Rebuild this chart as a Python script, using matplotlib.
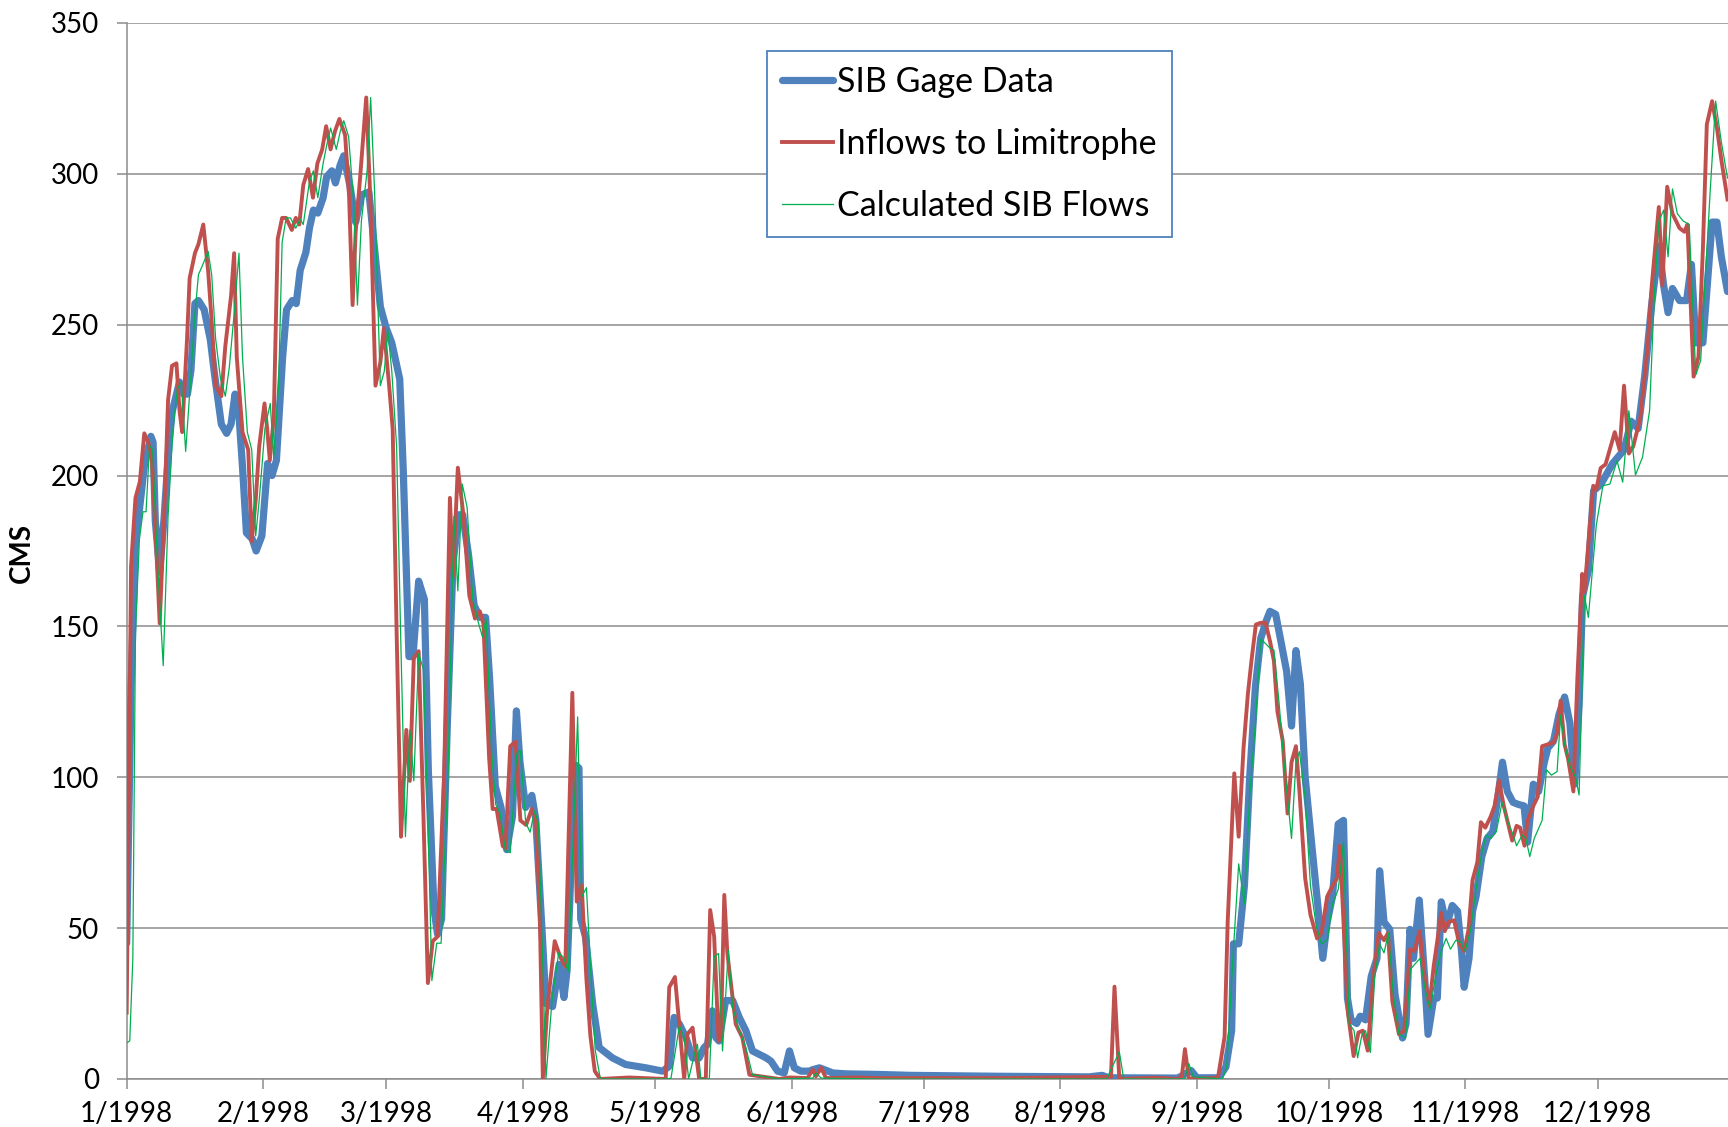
import numpy as np
import matplotlib
matplotlib.use("Agg")
import matplotlib.pyplot as plt

plt.rcParams["font.family"] = ["Lato", "DejaVu Sans"]

# day offsets from 1 Jan 1998, flow in CMS
gage_day = [0, 1, 2, 3, 4, 5.5, 6, 6.5, 7.5, 8.5, 9.5, 10.3, 12, 12.9, 13.8, 14.6, 15.5, 16.3, 17.6, 19,
            20, 21.5, 22.7, 23.7, 24.6, 25.5, 26.3, 27.2, 28.5, 29.4, 30.7, 32, 33, 34, 35.4, 36.3, 37.6,
            38.5, 39.4, 40.7, 41.5, 42.4, 43.4, 44.6, 45.4, 46.6, 47.4, 48.5, 49.3, 50.7, 52, 53.3, 55,
            56.3, 57.6, 58.9, 60.2, 62, 62.8, 64.1, 65, 66.3, 67.6, 68.5, 69.8, 70.6, 71.5, 72.8, 74.1,
            75.4, 76.3, 77.6, 78.9, 80.2, 81.5, 82.4, 83.7, 85, 86.3, 87.6, 88.5, 89.3, 90.6, 92, 92.9,
            94.4, 95.2, 96.7, 98.2, 99.3, 100, 101.2, 102, 102.7, 103.1, 104.2, 105.8, 107.3, 110.3, 113.3,
            117.9, 121.7, 123.2, 124.3, 125.5, 127, 128.5, 130, 131.1, 131.9, 133, 133.8, 134.5, 136, 137.6,
            139.1, 140.6, 142.1, 145.2, 146.3, 147.8, 149.3, 150.5, 151.6, 153.1, 155, 155.8, 157.3, 158.4,
            160.3, 163.3, 170.9, 178, 198, 218.5, 221.5, 223, 238.7, 241.7, 243, 248, 249.6, 250.9, 251.3,
            252.5, 253.8, 255, 256.3, 257.5, 258.8, 259.6, 260.9, 262.1, 263.4, 264.5, 265.5, 266.5, 267.6,
            269.2, 270.5, 271.6, 272.6, 273.8, 275.1, 276.3, 277.2, 278, 279.3, 280.1, 281.3, 282.6, 283.9,
            284.5, 285.5, 286.8, 288, 289.7, 290.5, 291.4, 292.2, 293.5, 294.7, 295.5, 296.8, 297.6, 298.5,
            299.7, 301, 302.2, 303.1, 303.7, 304.8, 305.6, 306.4, 307.7, 308.9, 310.2, 311.4, 312.4, 313.5,
            314.8, 316, 317.3, 318.1, 319.4, 320.6, 321.9, 322.7, 324, 325.2, 326.5, 327.7, 328.8, 329.8,
            330.6, 331.9, 333.1, 334.7, 337.4, 340, 341.6, 343.2, 344.7, 346.3, 347.9, 349, 350, 351, 352.6,
            354.2, 355.3, 356.3, 357.9, 359, 360, 361.1, 362.1, 363.5]
gage_cms = [45, 130, 178, 190, 203, 213, 211, 185, 168, 186, 208, 221, 231, 227, 227, 235, 257, 258, 255, 245,
            233, 217, 214, 217, 227, 220, 203, 181, 179, 175, 180, 204, 200, 205, 239, 255, 258,
            257, 268, 274, 282, 288, 287, 292, 299, 301, 297, 303, 306, 296, 284, 293, 294,
            275, 256, 249, 244, 232, 202, 140, 140, 165, 159, 102, 56, 48, 53, 117, 171,
            187, 187, 174, 157, 153, 153, 133, 97, 90, 76, 87, 122, 105, 90, 94, 86,
            47, 25, 24, 38, 27, 36, 81, 104, 103, 53, 47, 25, 10.4, 7, 4.8,
            3.7, 2.6, 4.2, 20.4, 18.2, 13.7, 7, 7, 10.4, 11.5, 22.6, 13.7, 12.6, 26, 26,
            20.4, 16, 9.3, 7, 5.9, 2.6, 2, 9.3, 3.7, 2.6, 2.6, 3.1, 3.7, 3.1,
            2, 1.7, 1.5, 1.2, 0.9, 0.7, 1.2, 0.4, 0.3, 2.8, 0.4, 0.4, 4, 16, 44.8,
            44.8, 64, 100, 130, 146, 152, 155, 154, 145, 135, 117, 142, 131, 100,
            76, 57, 40, 52, 60.5, 84.5, 85.7, 26.8, 19.6, 18.4, 20.8, 19.6, 34, 40,
            69, 52, 49.6, 28, 13.6, 18.4, 49.6, 40, 59.3, 34, 14.8, 26.8, 26.8, 58.7,
            50.8, 57.5, 55.6, 42.4, 30.4, 40, 55.6, 60.5, 73.7, 79.7, 82, 94, 105, 95.3,
            91.7, 91, 90.5, 78.5, 97.7, 95.3, 105, 109.7, 112, 120.6, 126.6, 118, 97.7, 124,
            160, 168.6, 195, 197, 204, 208.5, 218, 215.6, 233, 257, 276, 263, 254, 262, 258,
            258, 270, 244, 244, 265, 284, 284, 272.5, 261]

inflow_day = [0, 1, 2, 3, 4, 4.9, 5.7, 6.6, 7.5, 8.5, 9.4, 10.3, 11.3, 12, 12.6, 13.7, 14.3, 15.5, 16.3, 17.4,
              18.5, 19.3, 20.2, 21.5, 22.4, 23.7, 24.4, 25, 26.3, 27.6, 28.4, 29.3, 30.1, 31.3, 31.9, 32.5,
              33.4, 34.3, 35.3, 36.2, 37.5, 38.4, 39.2, 40.1, 41.2, 42.3, 43.3, 44.4, 45.3, 46.3, 47.3, 48.3,
              49.6, 50.5, 51.3, 52, 53, 54.4, 55.3, 56.5, 57.6, 58.4, 59.6, 60.4, 61.3, 62.3, 63.5, 64.3,
              65.2, 66.3, 67.4, 68.4, 69.5, 70.6, 72.1, 73.4, 74.1, 75.2, 76.5, 77.8, 79.1, 80.2, 81, 82.3,
              83.1, 84, 85.4, 86, 87.1, 88.3, 89.4, 90.7, 92, 92.9, 93.8, 94.5, 95.5, 97.2, 98.5, 99.6,
              101.2, 102.2, 103.3, 104.4, 105.3, 106.3, 107.5, 114.1, 122.4, 123.2, 124.5, 126.6, 127.3,
              128.5, 130, 131.5, 132.5, 133.4, 134.4, 134.9, 135.7, 136.4, 138.3, 139.8, 141.4, 148.2, 150.5,
              154.6, 155.8, 156.5, 157.7, 158.8, 165.6, 170.9, 200, 220.5, 223.5, 224.3, 225.4, 233.6, 238.7,
              239.6, 240.3, 241.2, 247.8, 249.3, 250, 251.5, 252.5, 253.6, 254.6, 255.4, 256.4, 257.5, 258.6,
              259.6, 260.5, 261.3, 262.5, 263.6, 264.5, 265.5, 266.3, 267.6, 268.8, 270.3, 271.3, 272.6,
              273.8, 274.8, 275.5, 276.3, 277.3, 278.6, 279.7, 280.7, 281.8, 283, 284.3, 285.5, 286.4, 287.4,
              288.9, 290.1, 291.4, 292.4, 293.6, 294.7, 295.8, 296.8, 298.5, 299.3, 300.1, 301.4, 302.6,
              303.7, 304.7, 305.6, 306.7, 307.5, 308.5, 309.7, 310.6, 311.6, 312.7, 313.5, 314.6, 315.6,
              316.4, 317.4, 318.1, 319.4, 320.4, 321.4, 322.7, 324, 324.8, 325.6, 326.5, 327.3, 328.5, 329.4,
              330.5, 331, 333, 333.7, 334.7, 335.8, 337.9, 339, 340, 341.1, 342.1, 343.7, 345.3, 346.3, 347.9,
              348.7, 349.8, 351, 352.6, 353.7, 354.4, 355.8, 356.9, 357.9, 358.8, 360, 361.1, 362.1, 363.5]
inflow_cms = [22, 170, 192.6, 198, 214, 211, 206, 180, 151, 186, 225, 236.4, 237.2, 221.5, 214.4, 245, 265.4,
              273.7, 276.7, 283.2, 267.8, 251.2, 229.8, 226.3, 242.9, 259.5, 273.7, 239.3, 214.4, 208.5,
              178.2, 191.9, 209.7, 223.9, 215.6, 205, 219.2, 278.5, 285.4, 285.4, 281.4, 285.4, 283.2,
              296.3, 301.6, 292.1, 303.4, 308.1, 315.8, 308.1, 314.1, 318.2, 312.9, 292.7, 256.5, 280.8,
              298.6, 325.3, 292.7, 229.8, 237.5, 248.8, 229.8, 215.6, 148, 80.3, 115.7, 98.8, 139.5,
              141.8, 86.5, 31.8, 45.7, 47.2, 101.8, 192.6, 166.5, 202.6, 186.5, 160.3, 152.6, 155, 151,
              106.5, 89.5, 89.5, 77.2, 76.5, 110.3, 111.8, 85.7, 84.2, 89.5, 86.5, 55.7, 0, 23.4, 45.7,
              40.3, 37.2, 128, 58.8, 64.2, 33, 14.2, 2.6, 0, 0.5, 0, 30.4, 33.8, 0, 14.8, 17, 0, 0, 56,
              47.2, 12.6, 13.7, 61, 41.6, 18.2, 13.7, 1.4, 0, 0.5, 0.3, 3.1, 0.9, 3.7, 0.3, 0.5, 0.3, 0.3,
              0.7, 0.7, 30.6, 0, 0.4, 0, 1, 9.9, 0, 0.4, 14, 52, 101.3, 80.3, 109.7, 127.8, 138.6, 150.6,
              151.2, 151.2, 145.2, 138.6, 121.8, 112.1, 88, 105, 110.3, 95.3, 66.5, 54.4, 46.6, 48.4,
              60.5, 64, 66.5, 77.3, 52, 22, 7.6, 15.4, 16, 9.4, 32.8, 48.4, 46, 48.4, 25.6, 14.8, 16, 43,
              42.4, 49, 34, 24.4, 37.6, 55, 49, 52, 52.6, 44.8, 42.4, 49.6, 65.9, 71.9, 85.1, 83.3, 86.9,
              90.5, 98.9, 90.5, 85.7, 79, 83.9, 83.3, 77.3, 85.7, 90.5, 93.5, 110.3, 110.9, 111.5, 114.5,
              125.4, 110.9, 106.1, 95.3, 132.6, 167.4, 161.4, 196.6, 195.4, 202.5, 203.7, 214.4, 208.5,
              229.8, 207.3, 209.7, 219.2, 241.7, 263, 289, 263, 295.7, 286.8, 282, 280.8, 283.2, 232.8,
              239.3, 274.9, 316.4, 324.1, 315.2, 304.6, 291.5]

calc_day = [0, 0.7, 1.4, 2, 2.9, 3.7, 4.4, 5.2, 5.9, 6.9, 8.3, 9.4, 10.5, 11.5, 12.4, 13.4, 14.6, 15.5, 16.3,
            17.2, 18.5, 19.3, 20.2, 21.3, 22.4, 23.3, 24.4, 25.5, 26.3, 27.4, 28.4, 29.3, 30.1, 31.4, 32.6,
            33.4, 34.5, 35.3, 36.2, 37.2, 38.4, 39.4, 40.1, 41.5, 42.4, 43.4, 44.6, 45.4, 46.3, 47.6, 48.5,
            49.3, 50.4, 51.5, 52.4, 53.3, 54.6, 55.4, 56.3, 57.6, 58.5, 59.3, 60.2, 61.3, 62.2, 63.3, 64.3,
            65.2, 66.3, 67.4, 68.4, 69.3, 70.4, 71.4, 73, 74.3, 75.2, 76.2, 77.3, 78.6, 79.9, 80.8, 81.6,
            82.9, 83.8, 84.8, 86, 87.1, 88.6, 89.4, 90.6, 91.6, 92.6, 93.5, 94.6, 95.2, 96.6, 98.1, 99.2,
            100.3, 102.4, 103.3, 104.4, 105.6, 106.4, 107.5, 108, 122.8, 123.6, 125.5, 126.6, 127.6, 128.9,
            129.6, 130.4, 132.3, 133.4, 134.4, 135.3, 136.6, 137.6, 139.1, 140.6, 142.1, 148.2, 155.8, 156.5,
            157.7, 170.9, 222.5, 225.4, 226.4, 240.2, 241.2, 242.2, 248.8, 249.8, 251.3, 252.5, 253.8, 255,
            256.3, 257.5, 258.4, 259.6, 260.5, 261.7, 262.5, 264.5, 265.5, 266.3, 267.6, 268.8, 270.1,
            271.3, 272.6, 273.8, 275.1, 276.3, 277.6, 278.7, 279.5, 280.5, 281.3, 282.4, 283.4, 284.5,
            285.5, 286.5, 287.6, 288.9, 290.4, 291.5, 292.6, 293.7, 294.9, 296, 297.2, 298.5, 299.6, 300.6,
            301.8, 302.9, 303.9, 305.2, 306.4, 307.7, 308.7, 309.7, 311, 312.3, 313.5, 314.8, 315.6, 316.9,
            317.7, 318.6, 319.6, 321.4, 322.4, 323.5, 324.8, 325.6, 326.5, 327.7, 329, 329.8, 331, 331.9,
            333.7, 335.2, 336.8, 338.4, 339.7, 341.1, 342.6, 344.2, 345.8, 346.8, 347.9, 349, 350, 351,
            352.1, 353.4, 354.8, 356.3, 357.4, 358.4, 359.5, 360.8, 362.1, 363.5]
calc_cms = [12, 12.6, 40, 148, 179, 188, 188, 210, 208.5, 174, 137, 186.5, 215, 228.6, 231, 208, 233.4, 253.6,
            266.6, 269.6, 274.3, 266.6, 245.3, 232.2, 226.3, 235.8, 253.6, 273.7, 239.3, 214.4, 208.5, 180,
            191.9, 215.6, 223.9, 206.1, 229.8, 277.3, 285.4, 285.4, 282, 285, 283.2, 297.4, 301, 292.1,
            303.4, 309.3, 315.2, 308.1, 314.1, 317.6, 312.3, 291.5, 256.5, 284.4, 301, 325.3, 293.9, 229.8,
            234.6, 248.2, 234.6, 209.5, 148, 80.3, 115.7, 98.8, 141, 135.7, 86.5, 32.6, 45, 45, 101.8, 186.5,
            161.8, 197.2, 189.5, 158.8, 151, 146.5, 152.6, 108, 91, 88, 75.7, 75, 108, 108.8, 85, 81.8, 88.8,
            85, 32.6, 0, 26.5, 41.8, 40.3, 35.7, 120, 60.3, 63.4, 29.5, 9.5, 0.5, 0, 0, 0.3, 17.6, 13.7, 0,
            8.1, 11.5, 0, 0, 40.5, 41.6, 9.3, 42.7, 23.7, 16, 10.4, 1.4, 0, 0.3, 2, 0.3, 0, 0, 9, 0, 0, 5.1,
            0.7, 0, 4, 42.8, 71.3, 58, 94.1, 118, 145.8, 144.6, 142.8, 142.2, 124.2, 109.7, 79.7, 105, 108.5,
            92.9, 64, 50.8, 44.8, 46, 58, 62.8, 78.5, 18.4, 16, 7, 14.8, 16, 8.8, 34, 44.8, 41.8, 48.4, 28,
            14.8, 13.6, 36.4, 38.2, 40, 29.2, 23.2, 34, 42.4, 46.6, 43, 46, 45.4, 42.4, 49.6, 62.9, 74.9,
            80.9, 79.7, 82, 91.7, 85.7, 80.9, 77.3, 80.9, 79.7, 73.7, 79.7, 85.7, 102.5, 100.7, 101.9, 120.6,
            110.9, 103.7, 100, 94.1, 160.2, 153, 183.6, 196.6, 197.2, 204.9, 197.8, 221.5, 200.2, 206.1,
            221.5, 257, 284.4, 288, 272.5, 295, 286.8, 284.4, 283.2, 233.4, 238.1, 264.2, 292.7, 324.1,
            310.5, 298.6]

series_names = ["SIB Gage Data", "Inflows to Limitrophe", "Calculated SIB Flows"]
month_labels = [f"{m}/1998" for m in range(1, 13)]

start = np.datetime64("1998-01-01T00:00")


def to_dates(days):
    return start + (np.asarray(days) * 24 * 60).round().astype("timedelta64[m]")


fig = plt.figure(figsize=(17.28, 11.27), dpi=100)
ax = fig.add_axes([0.0733, 0.0426, 0.9277, 0.937])

ax.plot(to_dates(gage_day), gage_cms, color="#4F81BD", lw=5.2, solid_joinstyle="round",
        solid_capstyle="round", label=series_names[0], zorder=3)
ax.plot(to_dates(inflow_day), inflow_cms, color="#C0504D", lw=2.8, solid_joinstyle="round",
        label=series_names[1], zorder=4)
ax.plot(to_dates(calc_day), calc_cms, color="#00B050", lw=0.9, label=series_names[2], zorder=5)

ax.set_ylim(0, 350)
ax.set_yticks(np.arange(0, 351, 50))
ax.set_xlim(np.datetime64("1998-01-01"), np.datetime64("1998-12-31"))
month_ticks = [np.datetime64(f"1998-{m:02d}-01") for m in range(1, 13)]
ax.set_xticks(month_ticks)
ax.set_xticklabels(month_labels)

ax.grid(axis="y", color="#8c8c8c", lw=1.1)
ax.set_axisbelow(True)
for s in ["top", "right"]:
    ax.spines[s].set_visible(False)
for s in ["left", "bottom"]:
    ax.spines[s].set_color("#8c8c8c")
    ax.spines[s].set_linewidth(1.1)
ax.tick_params(axis="both", direction="out", length=7, width=1.1, color="#8c8c8c",
               labelsize=20, labelcolor="black")
ax.tick_params(axis="y", pad=13)
ax.tick_params(axis="x", pad=9)

fig.text(22 / 1728, 1 - 553 / 1127, "CMS", rotation=90, ha="center", va="center",
         fontsize=20, fontweight="bold")

leg = ax.legend(loc="upper left", bbox_to_anchor=(0.3994, 0.9738), borderaxespad=0,
                fontsize=24.5, frameon=True, fancybox=False, framealpha=1,
                handlelength=1.5, handletextpad=0.12, borderpad=0.45, labelspacing=0.88)
leg.get_frame().set_edgecolor("#4F81BD")
leg.get_frame().set_linewidth(1.3)

fig.savefig("out.png", dpi=100)
